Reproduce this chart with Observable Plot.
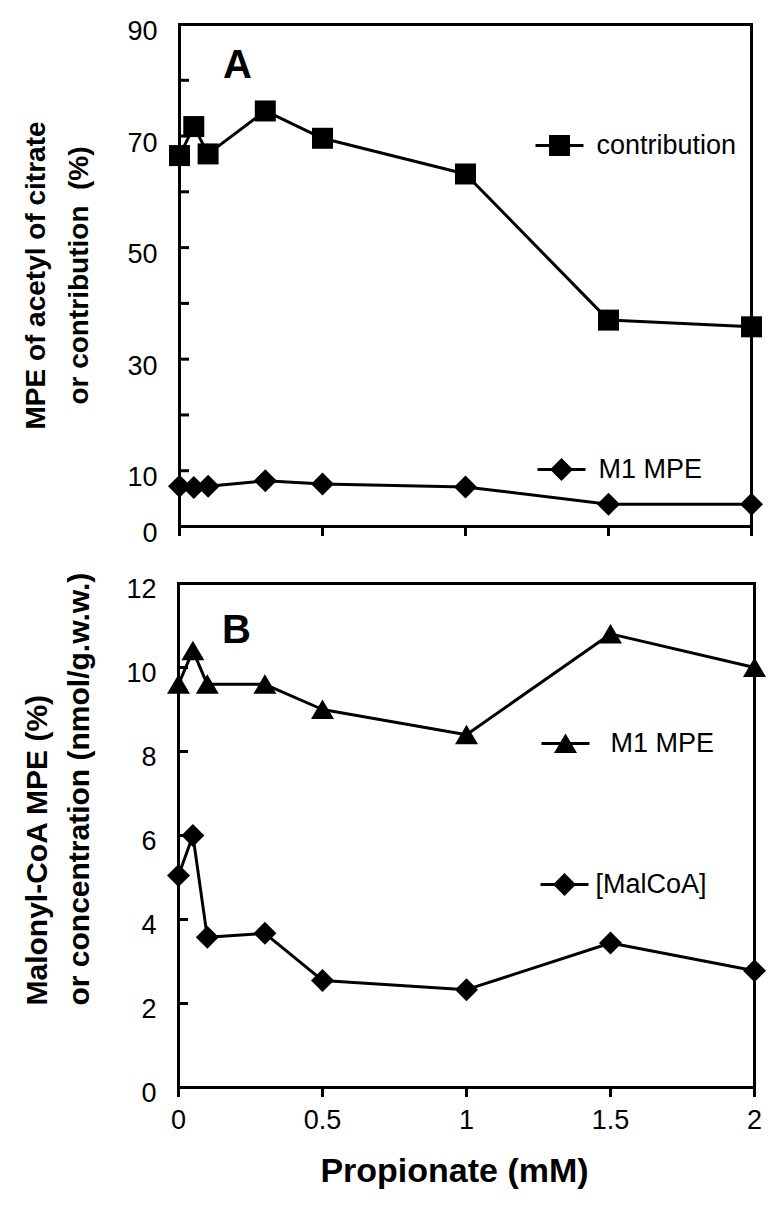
<!DOCTYPE html>
<html><head><meta charset="utf-8">
<script src="https://cdn.jsdelivr.net/npm/d3@7"></script>
<script src="https://cdn.jsdelivr.net/npm/@observablehq/plot@0.6"></script>
<style>
body{margin:0;background:#fff;}
#wrap{position:relative;width:782px;height:1208px;}
#wrap svg{position:absolute;left:0;}
</style></head><body><div id="wrap"></div>
<script>
// ---- data ----
const propionate = [0, 0.05, 0.1, 0.3, 0.5, 1, 1.5, 2];
const contribution = [66.5, 71.7, 66.8, 74.5, 69.6, 63.2, 37.0, 35.8];
const citrateM1MPE = [7.2, 7.0, 7.2, 8.2, 7.6, 7.1, 4.0, 4.0];
const malcoaM1MPE = [9.6, 10.4, 9.6, 9.6, 9.0, 8.4, 10.8, 10.0];
const malcoaConc = [5.05, 6.0, 3.58, 3.67, 2.55, 2.33, 3.44, 2.78];
const xTicks = [0, 0.5, 1, 1.5, 2];
const yTicksA = [0, 10, 20, 30, 40, 50, 60, 70, 80, 90];
const yLabelsA = [0, 10, 30, 50, 70, 90];
const yTicksB = [0, 2, 4, 6, 8, 10, 12];
const legendA = ["contribution", "M1 MPE"];
const legendB = ["M1 MPE", "[MalCoA]"];
const titleA = ["MPE of acetyl of citrate", "or contribution\u00a0 (%)"];
const titleB = ["Malonyl-CoA MPE (%)", "or concentration (nmol/g.w.w.)"];
const xTitle = "Propionate (mM)";

// ---- symbols ----
const sq = {draw(c){c.moveTo(-10.5,-10.5);c.lineTo(10.5,-10.5);c.lineTo(10.5,10.5);c.lineTo(-10.5,10.5);c.closePath();}};
const dia = {draw(c){c.moveTo(0,-11.5);c.lineTo(11.5,0);c.lineTo(0,11.5);c.lineTo(-11.5,0);c.closePath();}};
const tri = {draw(c){c.moveTo(0,-10);c.lineTo(11.5,9.5);c.lineTo(-11.5,9.5);c.closePath();}};
const seg = {draw(c){c.moveTo(-24,0);c.lineTo(24,0);}};

const FONT = '"Liberation Sans", Arial, Helvetica, sans-serif';
const K = "black";

function series(data, y, sym) {
  return [
    Plot.line(data, {x: "x", y, stroke: K, strokeWidth: 3}),
    Plot.dot(data, {x: "x", y, symbol: sym, fill: K, stroke: "none"})
  ];
}
function legendEntry(label, sym, dx, dy, tdx) {
  return [
    Plot.dot([label], {frameAnchor: "top-left", dx, dy, symbol: seg, stroke: K, strokeWidth: 3, fill: "none"}),
    Plot.dot([label], {frameAnchor: "top-left", dx, dy, symbol: sym, fill: K, stroke: "none"}),
    Plot.text([label], {frameAnchor: "top-left", dx: tdx, dy, text: d => d, textAnchor: "start", lineAnchor: "middle", fontSize: 27, fill: K})
  ];
}

// ---- panel A ----
const dA = propionate.map((x, i) => ({x, contribution: contribution[i], m1: citrateM1MPE[i]}));
const wA = 782, mlA = 179, mrA = 31;
const plotA = Plot.plot({
  width: wA, height: 560, marginTop: 24, marginBottom: 34, marginLeft: mlA, marginRight: mrA,
  style: {fontFamily: FONT, color: K, background: "white", overflow: "visible"},
  x: {domain: [0, 2]},
  y: {domain: [0, 90]},
  marks: [
    Plot.tickY(yTicksA, {y: d => d, insetRight: wA - mlA - mrA - 10, stroke: K, strokeWidth: 3}),
    Plot.axisY({ticks: yLabelsA, tickSize: 0, tickPadding: 22, fontSize: 27, dy: 7, label: null}),
    Plot.axisX({ticks: xTicks, tickSize: 10, strokeWidth: 3, tickFormat: () => "", label: null}),
    Plot.frame({stroke: K, strokeWidth: 3}),
    ...series(dA, "contribution", sq),
    ...series(dA, "m1", dia),
    ...legendEntry(legendA[0], sq, 380, 121, 417),
    ...legendEntry(legendA[1], dia, 382, 445, 419),
    Plot.text(["A"], {frameAnchor: "top-left", dx: 58, dy: 41, text: d => d, textAnchor: "middle", lineAnchor: "middle", fontSize: 40, fontWeight: "bold", fill: K}),
    Plot.text([titleA[0]], {frameAnchor: "left", rotate: -90, dx: 36 - mlA, text: d => d, fontSize: 28, fontWeight: "bold", textAnchor: "middle", lineAnchor: "middle", fill: K}),
    Plot.text([titleA[1]], {frameAnchor: "left", rotate: -90, dx: 79 - mlA, text: d => d, fontSize: 28, fontWeight: "bold", textAnchor: "middle", lineAnchor: "middle", fill: K})
  ]
});
plotA.style.top = "0px";

// ---- panel B ----
const dB = propionate.map((x, i) => ({x, m1: malcoaM1MPE[i], conc: malcoaConc[i]}));
const wB = 782, mlB = 178, mrB = 28;
const plotB = Plot.plot({
  width: wB, height: 648, marginTop: 23, marginBottom: 121, marginLeft: mlB, marginRight: mrB,
  style: {fontFamily: FONT, color: K, background: "white", overflow: "visible"},
  x: {domain: [0, 2]},
  y: {domain: [0, 12]},
  marks: [
    Plot.tickY(yTicksB, {y: d => d, insetRight: wB - mlB - mrB - 10, stroke: K, strokeWidth: 3}),
    Plot.axisY({ticks: yTicksB, tickSize: 0, tickPadding: 22, fontSize: 27, dy: 6, label: null}),
    Plot.axisX({ticks: xTicks, tickSize: 10, tickPadding: 12, strokeWidth: 3, fontSize: 27, tickFormat: d => String(d), label: null}),
    Plot.frame({stroke: K, strokeWidth: 3}),
    ...series(dB, "m1", tri),
    ...series(dB, "conc", dia),
    ...legendEntry(legendB[0], tri, 387, 160, 432),
    ...legendEntry(legendB[1], dia, 386, 301, 417),
    Plot.text(["B"], {frameAnchor: "top-left", dx: 58, dy: 47, text: d => d, textAnchor: "middle", lineAnchor: "middle", fontSize: 40, fontWeight: "bold", fill: K}),
    Plot.text([titleB[0]], {frameAnchor: "left", rotate: -90, dx: 37 - mlB, dy: 170, text: d => d, fontSize: 30, fontWeight: "bold", textAnchor: "start", lineAnchor: "middle", fill: K}),
    Plot.text([titleB[1]], {frameAnchor: "left", rotate: -90, dx: 79 - mlB, dy: 170, text: d => d, fontSize: 30, fontWeight: "bold", textAnchor: "start", lineAnchor: "middle", fill: K}),
    Plot.text([xTitle], {frameAnchor: "bottom", dx: -12, dy: 84, text: d => d, lineAnchor: "middle", fontSize: 34, fontWeight: "bold", fill: K, letterSpacing: 1.3})
  ]
});
plotB.style.top = "560px";

const wrap = document.getElementById("wrap");
wrap.appendChild(plotA);
wrap.appendChild(plotB);
</script>
</body></html>
